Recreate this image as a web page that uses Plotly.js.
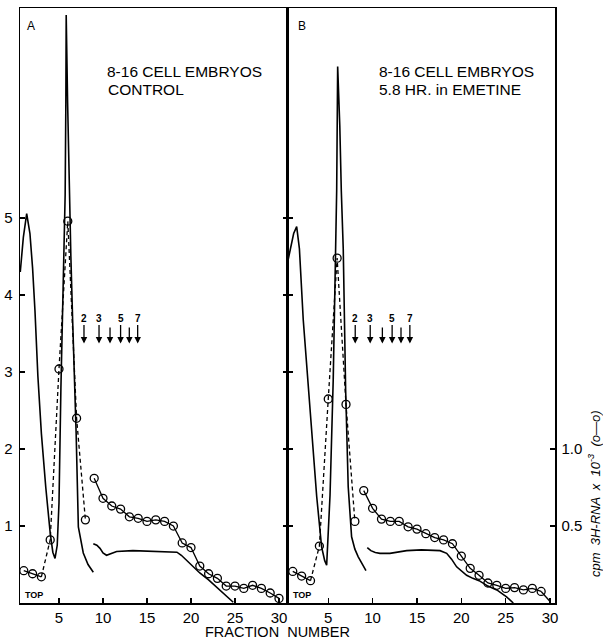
<!DOCTYPE html>
<html>
<head>
<meta charset="utf-8">
<script src="https://cdn.plot.ly/plotly-3.0.1.min.js"></script>
<style>html,body{margin:0;padding:0;background:#fff;}#chart{width:603px;height:643px;}</style>
</head>
<body>
<div id="chart"></div>
<script>
// ---- Panel A (control) : absorbance profile (left axis) ----
const absA1X = [0.6, 0.95, 1.33, 1.7, 2.0, 2.27, 2.6, 3.0, 3.5, 4.0, 4.3, 4.55, 4.8, 5.0, 5.22, 5.45, 5.7, 5.78, 5.82, 5.98, 6.17, 6.35, 6.55, 6.8, 6.95, 7.2, 7.5, 7.76, 8.3, 8.9];
const absA1Y = [4.3, 4.75, 5.06, 4.8, 4.35, 3.8, 2.95, 2.2, 1.5, 0.91, 0.66, 0.58, 0.75, 1.3, 2.8, 4.1, 5.3, 6.5, 7.64, 6.5, 5.23, 4.5, 3.68, 2.77, 2.2, 0.99, 0.78, 0.65, 0.5, 0.4];
const absA2X = [8.9, 9.3, 9.66, 10.0, 10.4, 10.9, 11.55, 13.4, 15.5, 17.5, 18.4, 18.9, 20.0, 21.0, 22.0, 22.9, 24.0, 24.8];
const absA2Y = [0.77, 0.75, 0.71, 0.65, 0.62, 0.64, 0.67, 0.68, 0.67, 0.66, 0.66, 0.62, 0.5, 0.39, 0.3, 0.21, 0.1, 0.01];
// ---- Panel A : cpm 3H-RNA x 10^-3 (right scale) ----
const fracA = [1,2,3,4,5,6,7,8,9,10,11,12,13,14,15,16,17,18,19,20,21,22,23,24,25,26,27,28,29,30];
const cpmA  = [0.21,0.19,0.17,0.41,1.52,2.48,1.20,0.54,0.81,0.68,0.63,0.61,0.56,0.55,0.53,0.54,0.53,0.50,0.39,0.36,0.24,0.19,0.16,0.11,0.11,0.095,0.115,0.095,0.065,0.03];

// ---- Panel B (5.8 hr emetine) : absorbance profile ----
const absB1X = [0.46, 0.8, 1.1, 1.44, 1.75, 2.18, 2.94, 3.7, 4.25, 4.6, 4.82, 5.2, 5.56, 5.87, 5.95, 6.06, 6.3, 6.47, 6.69, 6.96, 7.25, 7.63, 8.0, 8.38, 9.25];
const absB1Y = [4.45, 4.65, 4.8, 4.89, 4.6, 3.68, 2.55, 1.38, 0.73, 0.55, 0.49, 1.4, 2.9, 4.7, 5.36, 6.97, 6.2, 5.36, 4.6, 2.77, 1.51, 0.86, 0.7, 0.6, 0.42];
const absB2X = [9.4, 9.8, 10.3, 10.83, 11.95, 13.84, 15.5, 17.6, 18.35, 18.9, 19.47, 20.6, 21.3, 22.0, 23.0, 24.0, 25.1, 25.86];
const absB2Y = [0.72, 0.68, 0.655, 0.645, 0.645, 0.68, 0.69, 0.68, 0.645, 0.57, 0.47, 0.36, 0.32, 0.29, 0.22, 0.17, 0.08, 0.0];
// ---- Panel B : cpm ----
const fracB = [1,2,3,4,5,6,7,8,9,10,11,12,13,14,15,16,17,18,19,20,21,22,23,24,25,26,27,28,29];
const cpmB  = [0.205,0.175,0.145,0.37,1.325,2.24,1.29,0.53,0.73,0.615,0.545,0.53,0.53,0.495,0.48,0.45,0.425,0.41,0.385,0.305,0.225,0.18,0.13,0.115,0.095,0.10,0.085,0.095,0.075];
const tailBX = [29, 30];
const tailBY = [0.075, 0.01];

// ---- sedimentation markers (arrows) ----
const arrowsA = [7.84, 9.55, 10.8, 12.0, 12.99, 13.94];
const arrowsB = [8.04, 9.73, 11.1, 12.2, 13.2, 14.2];
const arrowLabels = ['2', '3', '', '5', '', '7'];

const xTicks = [5, 10, 15, 20, 25, 30];
const yTicks = [1, 2, 3, 4, 5];
const cpmTicks = [0.5, 1.0];
const cpmTickText = ['0.5', '1.0'];

const panelTextA = ['8-16 CELL EMBRYOS', 'CONTROL'];
const panelTextB = ['8-16 CELL EMBRYOS', '5.8 HR. in EMETINE'];

const K = '#000';
const LW = 1.6;

function solid(x, y, xa, ya) {
  return {x: x, y: y, xaxis: xa, yaxis: ya, mode: 'lines', line: {color: K, width: LW}, hoverinfo: 'skip', showlegend: false};
}
function circles(x, y, xa, ya, dash, mode) {
  return {x: x, y: y, xaxis: xa, yaxis: ya, mode: mode, line: {color: K, width: 1.3, dash: dash},
          marker: {symbol: 'circle-open', size: 8, color: K, line: {width: 1.3, color: K}}, cliponaxis: false, hoverinfo: 'skip', showlegend: false};
}

const traces = [
  solid(absA1X, absA1Y, 'x', 'y'),
  solid(absA2X, absA2Y, 'x', 'y'),
  circles(fracA.slice(0, 3), cpmA.slice(0, 3), 'x', 'y2', 'solid', 'lines'),
  circles(fracA.slice(2, 8), cpmA.slice(2, 8), 'x', 'y2', '4px,3px', 'lines'),
  circles(fracA.slice(8), cpmA.slice(8), 'x', 'y2', 'solid', 'lines'),
  circles(fracA, cpmA, 'x', 'y2', 'solid', 'markers'),
  solid(absB1X, absB1Y, 'x2', 'y3'),
  solid(absB2X, absB2Y, 'x2', 'y3'),
  circles(fracB.slice(0, 3), cpmB.slice(0, 3), 'x2', 'y4', 'solid', 'lines'),
  circles(fracB.slice(2, 8), cpmB.slice(2, 8), 'x2', 'y4', '4px,3px', 'lines'),
  circles(fracB.slice(8), cpmB.slice(8), 'x2', 'y4', 'solid', 'lines'),
  circles(tailBX, tailBY, 'x2', 'y4', 'solid', 'lines'),
  circles(fracB, cpmB, 'x2', 'y4', 'solid', 'markers')
];

const tickFont = {family: 'Liberation Sans Narrow, Liberation Sans, Arial, sans-serif', size: 15, color: K};
const txtFont = {family: 'Liberation Sans, Arial, sans-serif', size: 15, color: K};

const annotations = [];
function addText(text, x, y, size, xanchor, extra) {
  annotations.push(Object.assign({text: text, x: x, y: y, xref: 'paper', yref: 'paper', showarrow: false,
    xanchor: xanchor || 'center', yanchor: 'middle', font: {family: txtFont.family, size: size, color: K}}, extra || {}));
}
addText(panelTextA[0], 0.1589, 0.8933, 15.5, 'left');
addText(panelTextA[1], 0.1600, 0.8630, 15.5, 'left');
addText(panelTextB[0], 0.6673, 0.8933, 15.5, 'left');
addText(panelTextB[1], 0.6673, 0.8630, 15.5, 'left');
addText('A', 0.0206, 0.9697, 12);
addText('B', 0.5262, 0.9697, 12);
addText('<b>TOP</b>', 0.0262, 0.0134, 9);
addText('<b>TOP</b>', 0.5270, 0.0134, 9);
addText('FRACTION  NUMBER', 0.4804, -0.0487, 14.5);
addText('<i>cpm  3H-RNA  x  10<sup>-3</sup>  (o—o)</i>', 1.0730, 0.1832, 13, 'center', {textangle: -90});

function addArrows(xs, xref, yref) {
  xs.forEach(function (xv, i) {
    if (arrowLabels[i]) {
      annotations.push({x: xv, y: 3.37, ax: xv, ay: 3.69, xref: xref, yref: yref, axref: xref, ayref: yref,
        text: '<b>' + arrowLabels[i] + '</b>', showarrow: true, arrowhead: 2, arrowsize: 1, arrowwidth: 1.3, arrowcolor: K,
        standoff: 0, font: {family: txtFont.family, size: 10, color: K}, borderpad: 0});
    } else {
      annotations.push({x: xv, y: 3.37, ax: xv, ay: 3.6, xref: xref, yref: yref, axref: xref, ayref: yref,
        text: '', showarrow: true, arrowhead: 2, arrowsize: 1, arrowwidth: 1.3, arrowcolor: K, standoff: 0, startstandoff: 0});
    }
  });
}
addArrows(arrowsA, 'x', 'y');
addArrows(arrowsB, 'x2', 'y3');

const baseX = {showgrid: false, zeroline: false, showline: true, linecolor: K, linewidth: 1.5, mirror: true,
  ticks: 'inside', ticklen: 5, tickwidth: 1.3, tickcolor: K, tickvals: xTicks, tickfont: tickFont, fixedrange: true};
const layout = {
  width: 603, height: 643,
  margin: {l: 20, r: 48, t: 8, b: 40, pad: 0},
  paper_bgcolor: '#fff', plot_bgcolor: 'rgba(0,0,0,0)',
  showlegend: false,
  xaxis: Object.assign({}, baseX, {domain: [0, 0.5009], range: [0.57, 31.02], anchor: 'y'}),
  xaxis2: Object.assign({}, baseX, {domain: [0.5009, 1], range: [0.46, 30.56], anchor: 'y3'}),
  yaxis: {domain: [0, 1], range: [0, 7.73], anchor: 'x', showgrid: false, zeroline: false, showline: true, linecolor: K, linewidth: 1.5,
    mirror: 'ticks', ticks: 'inside', ticklen: 5, tickwidth: 1.3, tickcolor: K, tickvals: yTicks, tickfont: tickFont, ticklabelstandoff: 3},
  yaxis2: {domain: [0, 1], range: [0, 3.865], anchor: 'x', overlaying: 'y', visible: false},
  yaxis3: {domain: [0, 1], range: [0, 7.73], anchor: 'x2', showgrid: false, zeroline: false, showline: true, linecolor: K, linewidth: 1.5,
    ticks: 'inside', ticklen: 5, tickwidth: 1.3, tickcolor: K, tickvals: yTicks, showticklabels: false},
  yaxis4: {domain: [0, 1], range: [0, 3.865], anchor: 'x2', overlaying: 'y3', side: 'right', showgrid: false, zeroline: false,
    showline: true, linecolor: K, linewidth: 1.5, ticks: 'inside', ticklen: 5, tickwidth: 1.3, tickcolor: K,
    tickvals: cpmTicks, ticktext: cpmTickText, tickfont: tickFont, ticklabelstandoff: 2},
  annotations: annotations
};

Plotly.newPlot('chart', traces, layout, {staticPlot: true, displayModeBar: false});
</script>
</body>
</html>
